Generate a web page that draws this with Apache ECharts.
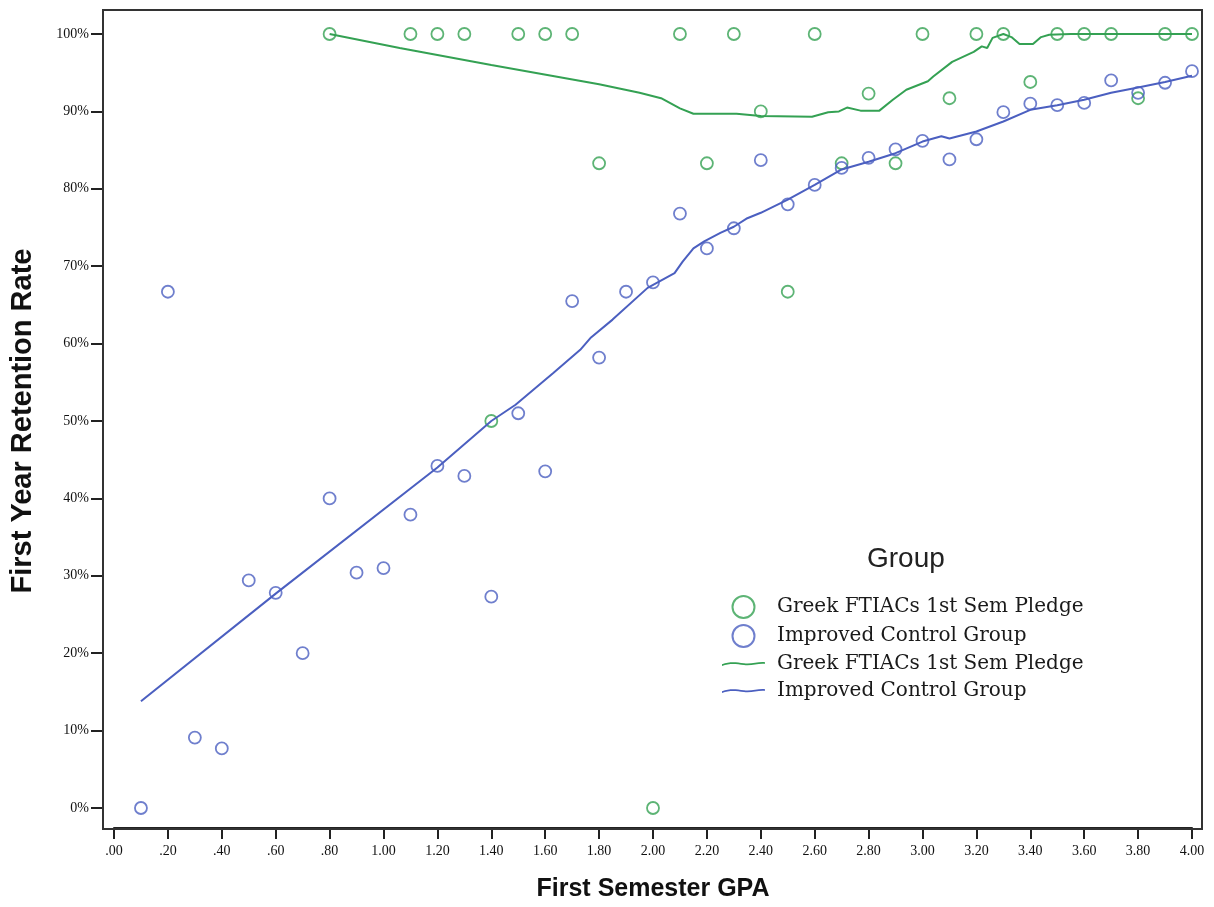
<!DOCTYPE html>
<html>
<head>
<meta charset="utf-8">
<script src="https://cdn.jsdelivr.net/npm/echarts@6/dist/echarts.min.js"></script>
<style>html,body{margin:0;padding:0;background:#fff}#chart{width:1214px;height:907px}</style>
</head>
<body>
<div id="chart"></div>
<script>
const greekName = 'Greek FTIACs 1st Sem Pledge';
const controlName = 'Improved Control Group';

const greekGpa  = [0.8,1.1,1.2,1.3,1.4,1.5,1.6,1.7,1.8,2.0,2.1,2.2,2.3,2.4,2.5,2.6,2.7,2.8,2.9,3.0,3.1,3.2,3.3,3.4,3.5,3.6,3.7,3.8,3.9,4.0];
const greekRate = [100,100,100,100,50,100,100,100,83.3,0,100,83.3,100,90,66.7,100,83.3,92.3,83.3,100,91.7,100,100,93.8,100,100,100,91.7,100,100];

const controlGpa  = [0.1,0.2,0.3,0.4,0.5,0.6,0.7,0.8,0.9,1.0,1.1,1.2,1.3,1.4,1.5,1.6,1.7,1.8,1.9,2.0,2.1,2.2,2.3,2.4,2.5,2.6,2.7,2.8,2.9,3.0,3.1,3.2,3.3,3.4,3.5,3.6,3.7,3.8,3.9,4.0];
const controlRate = [0,66.7,9.1,7.7,29.4,27.8,20.0,40.0,30.4,31.0,37.9,44.2,42.9,27.3,51.0,43.5,65.5,58.2,66.7,67.9,76.8,72.3,74.9,83.7,78.0,80.5,82.7,84.0,85.1,86.2,83.8,86.4,89.9,91.0,90.8,91.1,94.0,92.4,93.7,95.2];

const greekFitGpa  = [0.80,1.06,1.40,1.80,1.95,2.03,2.10,2.15,2.31,2.40,2.59,2.65,2.69,2.72,2.77,2.84,2.89,2.94,3.02,3.04,3.11,3.19,3.22,3.24,3.26,3.30,3.33,3.36,3.41,3.44,3.47,3.55,4.00];
const greekFitRate = [100,98.2,96.0,93.5,92.4,91.7,90.4,89.7,89.7,89.4,89.3,89.9,90.0,90.5,90.1,90.1,91.5,92.8,93.9,94.5,96.4,97.7,98.4,98.2,99.5,100,99.6,98.7,98.7,99.6,99.9,100,100];

const controlFitGpa  = [0.10,0.60,1.20,1.40,1.49,1.63,1.73,1.77,1.85,1.98,2.08,2.11,2.15,2.19,2.25,2.30,2.35,2.40,2.50,2.60,2.70,2.80,2.90,3.00,3.07,3.10,3.20,3.30,3.40,3.50,3.60,3.70,3.80,3.90,4.00];
const controlFitRate = [13.8,27.7,44.0,50.0,52.1,56.2,59.2,60.8,63.1,67.2,69.1,70.6,72.3,73.2,74.3,75.1,76.2,76.9,78.6,80.5,82.5,83.5,84.6,86.1,86.8,86.5,87.4,88.7,90.2,90.8,91.5,92.4,93.1,93.8,94.6];

const GREEN = '#34a153';
const BLUE = '#4b5fc0';
const FIT = ' (fit)';
const WAVE = 'path://M0,3.2 C8,0.2 14,1.2 22,2.2 C30,3.2 36,0.2 43,1 L43,2.6 C36,1.8 30,4.8 22,3.8 C14,2.8 8,1.8 0,4.8 Z';

const zip = (a, b) => a.map((v, i) => [v, b[i]]);

const chart = echarts.init(document.getElementById('chart'), null, {renderer: 'canvas'});
chart.setOption({
  animation: false,
  backgroundColor: '#ffffff',
  title: {
    text: 'Group', left: 862, top: 540,
    textStyle: {fontFamily: 'Liberation Sans', fontSize: 28, fontWeight: 'normal', color: '#222'}
  },
  legend: {
    orient: 'vertical', left: 717, top: 590,
    itemWidth: 43, itemHeight: 22, itemGap: 5,
    data: [
      {name: greekName, icon: 'circle'},
      {name: controlName, icon: 'circle'},
      {name: greekName + FIT, icon: WAVE, itemStyle: {color: GREEN}},
      {name: controlName + FIT, icon: WAVE, itemStyle: {color: BLUE}}
    ],
    formatter: n => n.replace(FIT, ''),
    textStyle: {fontFamily: 'DejaVu Serif', fontSize: 20, lineHeight: 22, color: '#1a1a1a', padding: [0, 0, 0, 7]}
  },
  grid: {left: 114, right: 22, top: 34, bottom: 98, containLabel: false},
  xAxis: {
    type: 'value', min: 0, max: 4, interval: 0.2, offset: 20,
    name: 'First Semester GPA', nameLocation: 'middle', nameGap: 49,
    nameTextStyle: {fontFamily: 'Liberation Sans', fontWeight: 'bold', fontSize: 25, color: '#111'},
    axisLine: {show: true, onZero: false, lineStyle: {color: '#222', width: 2}},
    axisTick: {show: true, length: 11, lineStyle: {color: '#222', width: 2}},
    axisLabel: {margin: 16, fontFamily: 'Liberation Serif', fontSize: 14, color: '#111',
      formatter: v => v.toFixed(2).replace(/^0/, '')},
    splitLine: {show: false}
  },
  yAxis: {
    type: 'value', min: 0, max: 100, interval: 10, offset: 11,
    name: 'First Year Retention Rate', nameLocation: 'middle', nameGap: 66, nameRotate: 90,
    nameTextStyle: {fontFamily: 'Liberation Sans', fontWeight: 'bold', fontSize: 29, color: '#111'},
    axisLine: {show: true, onZero: false, lineStyle: {color: '#222', width: 2}},
    axisTick: {show: true, length: 12, lineStyle: {color: '#222', width: 2}},
    axisLabel: {margin: 14, fontFamily: 'Liberation Serif', fontSize: 14, color: '#111',
      formatter: v => v + '%'},
    splitLine: {show: false}
  },
  graphic: [{
    type: 'rect', z: 100, silent: true,
    shape: {x: 103, y: 10, width: 1099, height: 819},
    style: {fill: 'none', stroke: '#333', lineWidth: 2}
  }],
  series: [
    {
      name: greekName + FIT, type: 'line', data: zip(greekFitGpa, greekFitRate),
      showSymbol: false, symbol: 'none', smooth: false, clip: false,
      lineStyle: {color: GREEN, width: 2}, itemStyle: {color: GREEN}
    },
    {
      name: controlName + FIT, type: 'line', data: zip(controlFitGpa, controlFitRate),
      showSymbol: false, symbol: 'none', smooth: false, clip: false,
      lineStyle: {color: BLUE, width: 2}, itemStyle: {color: BLUE}
    },
    {
      name: greekName, type: 'scatter', data: zip(greekGpa, greekRate),
      symbol: 'circle', symbolSize: 12, clip: false,
      itemStyle: {color: 'rgba(255,255,255,0)', borderColor: GREEN, borderWidth: 1.8}
    },
    {
      name: controlName, type: 'scatter', data: zip(controlGpa, controlRate),
      symbol: 'circle', symbolSize: 12, clip: false,
      itemStyle: {color: 'rgba(255,255,255,0)', borderColor: BLUE, borderWidth: 1.8}
    }
  ]
});
</script>
</body>
</html>
